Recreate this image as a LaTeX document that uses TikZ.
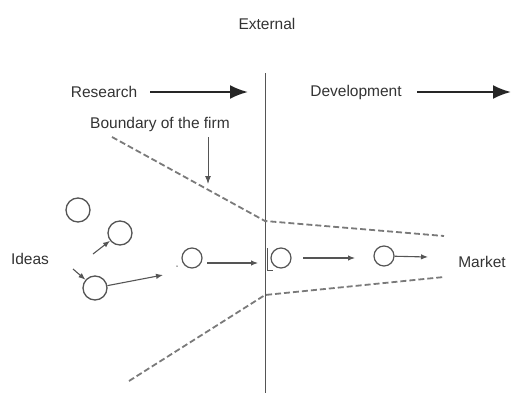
\documentclass[tikz,border=0pt]{standalone}
\usepackage{fontspec}
\setmainfont{Liberation Sans}
\usetikzlibrary{arrows.meta}
\definecolor{ink}{HTML}{333333}
\definecolor{lineg}{HTML}{555555}
\definecolor{dashg}{HTML}{7A7A7A}
\begin{document}
\begin{tikzpicture}[x=1pt,y=-1pt,
  lbl/.style={text=ink, font=\fontsize{15.5}{18}\selectfont, inner sep=0pt},
  idea/.style={circle, draw=lineg, line width=1.3pt, inner sep=0pt, minimum size=24pt},
  stage/.style={circle, draw=lineg, line width=1.2pt, inner sep=0pt, minimum size=20pt},
  bigarrow/.style={draw=black!85, line width=2.2pt, -{Latex[length=18pt,width=14pt]}},
  smallarrow/.style={draw=lineg, line width=1.1pt, -{Latex[length=7pt,width=5.5pt]}},
  boundary/.style={draw=dashg, line width=1.8pt, dash pattern=on 6pt off 3pt},
  divider/.style={draw=lineg, line width=0.9pt}]
\useasboundingbox (0,0) rectangle (511,396);

% texts
\node[lbl] (external) at (267,24) {External};
\node[lbl] (research) at (104,92) {Research};
\node[lbl] (development) at (356,92) {Development};
\node[lbl] (bound) at (160,124) {Boundary of the firm};
\node[lbl] (ideas) at (30,259) {Ideas};
\node[lbl] (market) at (482,262) {Market};

% divider
\coordinate (vtop) at (265,73);
\coordinate (vbot) at (265,393);
\draw[divider] (vtop) -- (vbot);

% big arrows
\coordinate (ra1) at (150,92);
\coordinate (ra2) at (248,92);
\coordinate (da1) at (417,92);
\coordinate (da2) at (511,92);
\draw[bigarrow] (ra1) -- (ra2);
\draw[bigarrow] (da1) -- (da2);

% boundary of the firm
\coordinate (u1) at (112,137);
\coordinate (u2) at (265,221);
\coordinate (u3) at (444,236);
\coordinate (l1) at (129,381);
\coordinate (l2) at (265,295);
\coordinate (l3) at (444,277);
\draw[boundary] (u1) -- (u2) -- (u3);
\draw[boundary] (l1) -- (l2) -- (l3);
\coordinate (ba1) at (208,137);
\coordinate (ba2) at (208,184);
\draw[draw=lineg, line width=1pt, -{Latex[length=8pt,width=6pt]}] (ba1) -- (ba2);

% circles
\node[idea] (ca) at (78,210) {};
\node[idea] (cb) at (120,233) {};
\node[idea] (cc) at (95,288) {};
\node[stage] (cd) at (192,258) {};
\node[stage] (ce) at (281,258) {};
\node[stage] (cf) at (384,256) {};

% small arrows
\coordinate (b0) at (93,254);
\draw[smallarrow] (b0) -- (cb);
\coordinate (c0) at (73,269);
\draw[smallarrow] (c0) -- (cc);
\coordinate (c1) at (163,275);
\draw[smallarrow] (cc) -- (c1);
\coordinate (d1) at (207,263);
\coordinate (d2) at (258,263);
\draw[smallarrow] (d1) -- (d2);
\coordinate (e1) at (303,258);
\coordinate (e2) at (355,258);
\draw[smallarrow] (e1) -- (e2);
\coordinate (f2) at (428,257);
\draw[smallarrow] (cf) -- (f2);

% small marks
\coordinate (h1) at (267,248);
\coordinate (h2) at (267,270);
\coordinate (h3) at (273,270);
\draw[lineg, line width=0.8pt] (h1) -- (h2) -- (h3);
\node[circle, fill=lineg, inner sep=0pt, minimum size=1.5pt] (dot) at (177,266) {};
\end{tikzpicture}
\end{document}
